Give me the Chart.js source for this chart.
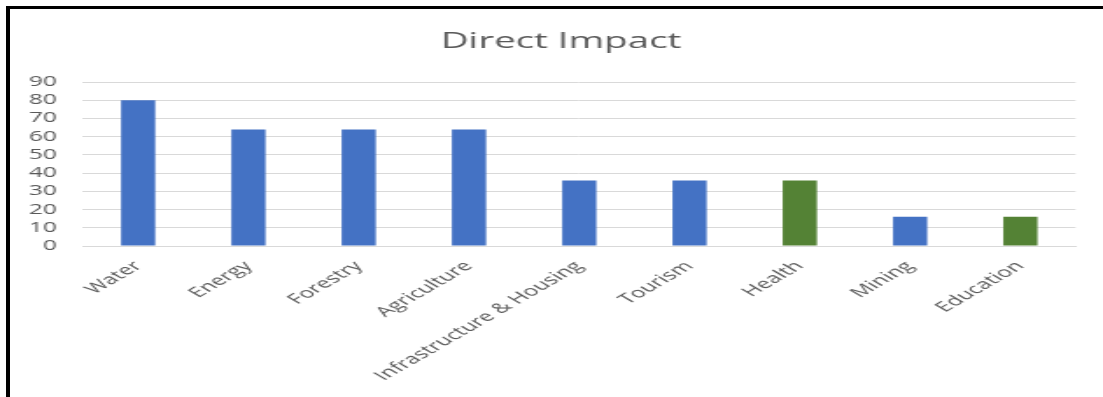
<!DOCTYPE html>
<html>
<head>
<meta charset="utf-8">
<script src="https://cdn.jsdelivr.net/npm/chart.js@4/dist/chart.umd.min.js"></script>
<style>
    html, body { margin: 0; padding: 0; background: #fff; overflow: hidden; }
    #stage { position: relative; width: 1103px; height: 397px; }
    /* the source picture is a stretched Excel chart, so draw narrow and stretch */
    #wrap { position: absolute; left: 0; top: 0; width: 630px; height: 397px;
            transform: scaleX(1.7508); transform-origin: 0 0; }
    #frame { position: absolute; left: 6px; top: 6px; right: 0; bottom: 0;
             border-top: 3px solid #000; border-left: 4px solid #000; pointer-events: none; }
</style>
</head>
<body>
<div id="stage">
    <div id="wrap"><canvas id="barChart" width="630" height="397"></canvas></div>
    <div id="frame"></div>
</div>
<script>
// chart data
const categories = ['Water', 'Energy', 'Forestry', 'Agriculture', 'Infrastructure & Housing',
    'Tourism', 'Health', 'Mining', 'Education'];
const impactValues = [80, 64, 64, 64, 36, 36, 36, 16, 16];
const greenCategories = ['Health', 'Education'];
const yTicks = [0, 10, 20, 30, 40, 50, 60, 70, 80, 90];

const BLUE = '#4472c4';
const GREEN = '#548235';
const TEXT = '#595959';
const FONT = "'Open Sans', sans-serif";

// title in the original sits a bit right of the canvas centre
const titleShift = {
    id: 'titleShift',
    afterLayout(chart) {
        const t = chart.titleBlock;
        if (!t) return;
        const dx = 320.4 - (t.left + t.right) / 2;
        t.left += dx;
        t.right += dx;
    }
};

function createBarChart() {
    const barColors = categories.map(c => greenCategories.includes(c) ? GREEN : BLUE);

    const ctx = document.getElementById('barChart').getContext('2d');
    new Chart(ctx, {
        type: 'bar',
        data: {
            labels: categories,
            datasets: [{
                data: impactValues,
                backgroundColor: barColors,
                borderWidth: 0,
                categoryPercentage: 1,
                barPercentage: 0.31
            }]
        },
        plugins: [titleShift],
        options: {
            responsive: false,
            devicePixelRatio: 1,
            animation: false,
            layout: { padding: { left: 0, right: 15.7, top: 0, bottom: 0 } },
            plugins: {
                legend: { display: false },
                tooltip: { enabled: false },
                title: {
                    display: true,
                    text: 'Direct Impact',
                    color: TEXT,
                    font: { family: FONT, size: 22, weight: 'normal', lineHeight: 1.2 },
                    padding: { top: 28.5, bottom: 27.1 }
                }
            },
            scales: {
                x: {
                    grid: { display: false },
                    border: { display: true, color: '#d9d9d9' },
                    ticks: {
                        color: TEXT,
                        font: { family: FONT, size: 14 },
                        minRotation: 45,
                        maxRotation: 45,
                        autoSkip: false,
                        padding: 4
                    },
                    afterFit: scale => { scale.height = 151; }
                },
                y: {
                    min: 0,
                    max: yTicks[yTicks.length - 1],
                    grid: { color: '#d9d9d9', drawTicks: false },
                    border: { display: false },
                    ticks: {
                        stepSize: yTicks[1] - yTicks[0],
                        autoSkip: false,
                        color: TEXT,
                        font: { family: FONT, size: 14 },
                        padding: 14.8
                    },
                    afterFit: scale => { scale.width = 47.4; }
                }
            }
        }
    });
}

document.addEventListener('DOMContentLoaded', createBarChart);
</script>
</body>
</html>
